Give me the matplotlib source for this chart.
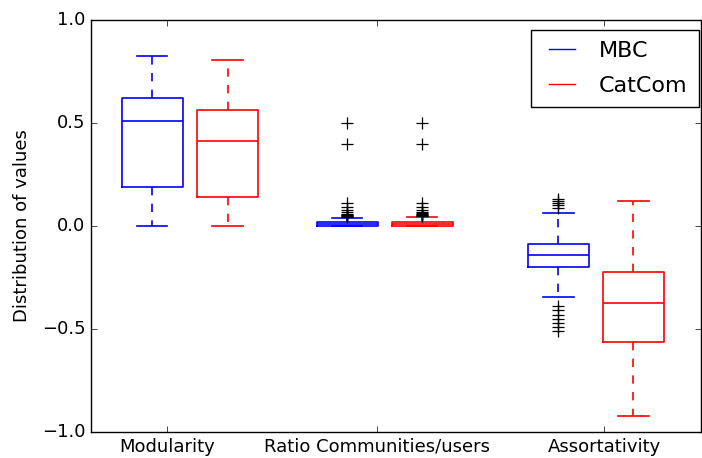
import matplotlib
matplotlib.use("Agg")
import matplotlib.pyplot as plt
from matplotlib.lines import Line2D

plt.style.use("classic")

metrics = ["Modularity", "Ratio Communities/users", "Assortativity"]
methods = ["MBC", "CatCom"]
method_colors = ["blue", "red"]

# five-number summaries per metric: whisker low, Q1, median, Q3, whisker high
mbc_whislo = [0.0, 0.0, -0.343]
mbc_q1 = [0.19, 0.0, -0.20]
mbc_med = [0.51, 0.01, -0.142]
mbc_q3 = [0.623, 0.021, -0.086]
mbc_whishi = [0.825, 0.04, 0.065]
mbc_fliers = [
    [],
    [0.045, 0.048, 0.05, 0.052, 0.055, 0.06, 0.07, 0.08, 0.09, 0.11, 0.40, 0.50],
    [0.088, 0.10, 0.11, 0.12, 0.13, -0.39, -0.41, -0.43, -0.45, -0.47, -0.49, -0.51],
]

catcom_whislo = [0.0, 0.0, -0.922]
catcom_q1 = [0.142, 0.0, -0.562]
catcom_med = [0.413, 0.008, -0.375]
catcom_q3 = [0.565, 0.02, -0.222]
catcom_whishi = [0.806, 0.045, 0.121]
catcom_fliers = [
    [],
    [0.048, 0.05, 0.052, 0.055, 0.058, 0.062, 0.07, 0.08, 0.09, 0.11, 0.40, 0.50],
    [],
]

mbc_positions = [1.0, 4.2, 7.66]
catcom_positions = [2.24, 5.43, 8.89]
tick_positions = [1.25, 4.69, 8.41]


def summaries(whislo, q1, med, q3, whishi, fliers):
    return [
        dict(whislo=a, q1=b, med=c, q3=d, whishi=e, fliers=f)
        for a, b, c, d, e, f in zip(whislo, q1, med, q3, whishi, fliers)
    ]


fig = plt.figure(figsize=(7.02, 4.58), dpi=100, facecolor="white")
ax = fig.add_axes([91 / 702, 26 / 458, 610 / 702, 412 / 458])

groups = [
    (summaries(mbc_whislo, mbc_q1, mbc_med, mbc_q3, mbc_whishi, mbc_fliers), mbc_positions, method_colors[0]),
    (summaries(catcom_whislo, catcom_q1, catcom_med, catcom_q3, catcom_whishi, catcom_fliers), catcom_positions, method_colors[1]),
]

for stats, pos, col in groups:
    ax.bxp(
        stats,
        positions=pos,
        widths=1.0,
        boxprops=dict(color=col, linewidth=1.2),
        medianprops=dict(color=col, linewidth=1.2),
        whiskerprops=dict(color=col, linestyle="--", linewidth=1.2),
        capprops=dict(color=col, linewidth=1.2),
        flierprops=dict(marker="+", markeredgecolor="black", markersize=8,
                        markeredgewidth=0.9, linestyle="none"),
        manage_ticks=False,
    )

ax.set_xlim(0, 10)
ax.set_ylim(-1.0, 1.0)
ax.set_yticks([-1.0, -0.5, 0.0, 0.5, 1.0])
ax.set_xticks(tick_positions)
ax.set_xticklabels(metrics, fontsize=13)
ax.tick_params(axis="y", labelsize=13)
ax.set_ylabel("Distribution of values", fontsize=13, labelpad=8)

handles = [Line2D([], [], color=c) for c in method_colors]
ax.legend(handles, methods, loc="upper right", fontsize=16,
          bbox_to_anchor=(0.996, 0.976), borderaxespad=0.0,
          handlelength=1.8, handletextpad=0.75, labelspacing=0.68,
          borderpad=0.5)

fig.savefig("out.png", dpi=100, facecolor="white")
